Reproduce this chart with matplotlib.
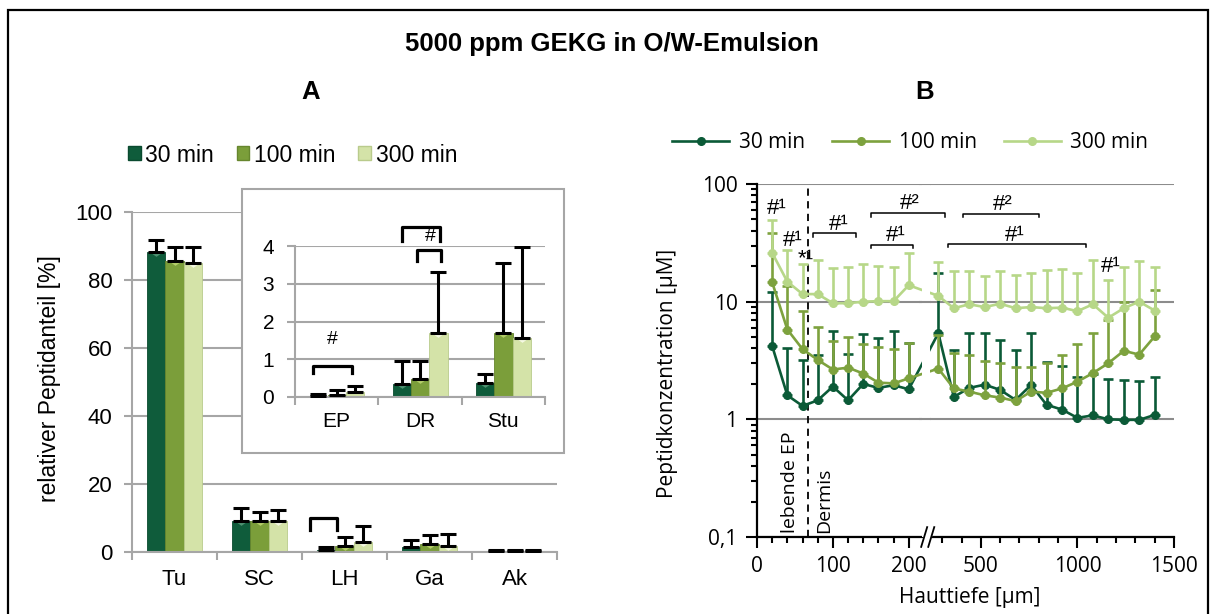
import numpy as np
import matplotlib
matplotlib.use("Agg")
import matplotlib.pyplot as plt
from matplotlib.patches import Rectangle, Patch
from matplotlib.lines import Line2D
from matplotlib.ticker import LogLocator, NullFormatter

plt.rcParams["font.family"] = ["Liberation Sans", "DejaVu Sans"]

# ── Panel A data (relativer Peptidanteil, %) ─────────────
groups_main = ["Tu", "SC", "LH", "Ga", "Ak"]
a30 = [88.2, 9.0, 0.6, 1.4, 0.2]
a30_hi = [91.7, 12.8, 1.6, 3.5, 0.5]
a100 = [85.6, 9.0, 1.9, 2.4, 0.3]
a100_hi = [89.7, 11.9, 4.4, 5.0, 0.6]
a300 = [85.0, 9.0, 3.0, 1.8, 0.3]
a300_hi = [89.7, 12.4, 7.6, 5.3, 0.6]

groups_inset = ["EP", "DR", "Stu"]
i30 = [0.02, 0.35, 0.37]
i30_hi = [0.07, 0.95, 0.61]
i100 = [0.05, 0.48, 1.70]
i100_hi = [0.18, 0.95, 3.56]
i300 = [0.12, 1.70, 1.55]
i300_hi = [0.28, 3.30, 3.98]

# ── Panel B data (Peptidkonzentration, µM) ────────────────
depth = [20, 40, 60, 80, 100, 120, 140, 160, 180, 200,
         280, 360, 440, 520, 600, 680, 760, 840, 920, 1000,
         1080, 1160, 1240, 1320, 1400]
b30 = [4.2, 1.6, 1.3, 1.45, 1.9, 1.45, 2.0, 1.85, 1.95, 1.8,
       5.4, 1.55, 1.85, 1.97, 1.78, 1.46, 1.96, 1.33, 1.21, 1.03,
       1.08, 1.0, 0.99, 0.99, 1.09]
b30_hi = [12.2, 4.0, 3.2, 3.55, 5.6, 3.6, 5.3, 4.9, 5.6, 4.45,
          17.5, 3.9, 5.4, 5.4, 4.7, 3.9, 5.4, 3.1, 2.85, 2.27,
          2.45, 2.22, 2.17, 2.11, 2.27]
b100 = [14.6, 5.8, 3.95, 3.2, 2.65, 2.75, 2.45, 2.05, 2.02, 2.23,
        2.7, 1.83, 1.72, 1.6, 1.53, 1.43, 1.72, 1.68, 1.83, 2.09,
        2.47, 3.0, 3.82, 3.55, 5.07]
b100_hi = [38.0, 13.6, 8.3, 6.1, 4.6, 5.05, 4.4, 4.1, 3.95, 4.45,
           5.2, 3.64, 3.5, 3.16, 3.0, 2.77, 2.8, 3.0, 3.5, 4.36,
           5.4, 7.0, 10.0, 10.0, 12.6]
b300 = [26.0, 14.8, 11.6, 11.6, 9.7, 9.7, 10.0, 10.1, 10.1, 13.8,
        11.2, 8.8, 9.5, 9.0, 9.6, 8.8, 9.0, 8.8, 8.9, 8.3,
        9.5, 7.3, 8.8, 10.0, 8.4]
b300_hi = [49.5, 27.5, 20.8, 22.4, 19.2, 19.6, 20.8, 20.0, 19.6, 26.0,
           21.8, 18.1, 18.2, 16.6, 18.2, 16.7, 17.4, 18.5, 18.9, 17.4,
           22.5, 15.3, 19.9, 22.3, 19.6]

series_labels = ["30 min", "100 min", "300 min"]

# ── Styling ──────────────────────────────────────────────
BAR_COLORS = ["#0F5C3B", "#7B9E3A", "#D4E3A8"]
BAR_EDGES = ["#0A4A2F", "#66862E", "#B9CB8C"]
BEVEL_COLORS = ["#4E9272", "#B5CF6A", "#F5F9E3"]
LINE_COLORS = ["#0B5A37", "#7DA23E", "#B7D788"]
GRID_A = "#A6A6A6"
GRID_B = "#8C8C8C"
BEVEL = [(-1, 0), (1, 0), (0, -0.7), (-1, 0)]

W, H = 1216, 614


def fx(px):
    return px / W


def fy(py):
    return 1 - py / H


fig = plt.figure(figsize=(W / 100, H / 100), dpi=100)

# outer frame (bottom edge runs off the picture)
fig.add_artist(Rectangle((fx(8), -0.1), (1208 - 8) / W, fy(10) + 0.1,
                         transform=fig.transFigure, fill=False,
                         edgecolor="black", lw=1.6, zorder=0))

fig.text(fx(612), fy(44), "5000 ppm GEKG in O/W-Emulsion", ha="center",
         va="center", fontsize=18.5, fontweight="bold")
fig.text(fx(311), fy(92), "A", ha="center", va="center", fontsize=18.5,
         fontweight="bold")
fig.text(fx(925), fy(92), "B", ha="center", va="center", fontsize=18.5,
         fontweight="bold")


def draw_bars(ax, cats, vals_list, hi_list, bw, min_bevel, capsize):
    x = np.arange(len(cats))
    for k, (vals, hi) in enumerate(zip(vals_list, hi_list)):
        vals = np.asarray(vals, float)
        hi = np.asarray(hi, float)
        pos = x + (k - 1) * bw
        ax.bar(pos, vals, bw, color=BAR_COLORS[k], edgecolor=BAR_EDGES[k],
               linewidth=0.6, zorder=2)
        big = vals >= min_bevel
        ax.scatter(pos[big], vals[big], marker=BEVEL, s=80,
                   color=BEVEL_COLORS[k], linewidths=0, zorder=2.5)
        ax.errorbar(pos, vals, yerr=[np.zeros_like(vals), hi - vals],
                    fmt="none", ecolor="black", elinewidth=2.2,
                    capsize=capsize, capthick=2.2, zorder=3)
    ax.set_xlim(-0.5, len(cats) - 0.5)
    ax.set_xticks(x)
    ax.set_xticklabels(cats)
    ax.set_xticks(np.arange(-0.5, len(cats)), minor=True)
    ax.tick_params(axis="x", which="major", length=0)
    ax.tick_params(axis="x", which="minor", length=6, width=1.5, color=GRID_A)
    ax.tick_params(axis="y", which="major", length=6, width=1.5, color=GRID_A)
    for s in ["top", "right"]:
        ax.spines[s].set_visible(False)
    for s in ["left", "bottom"]:
        ax.spines[s].set_color(GRID_A)
        ax.spines[s].set_linewidth(1.5)
    ax.yaxis.grid(True, color=GRID_A, lw=1.5)
    ax.set_axisbelow(True)


def bracket(ax, x0, x1, y_top, y_leg, lw):
    ax.plot([x0, x0, x1, x1], [y_leg, y_top, y_top, y_leg], color="black",
            lw=lw, clip_on=False, solid_joinstyle="round", zorder=6)


# ── Panel A: main axes ───────────────────────────────────
axA = fig.add_axes([fx(132), fy(552), (557 - 132) / W, (552 - 212) / H])
draw_bars(axA, groups_main, [a30, a100, a300], [a30_hi, a100_hi, a300_hi],
          0.216, 1.5, 5.5)
axA.set_ylim(0, 100)
axA.set_yticks(np.arange(0, 101, 20))
axA.tick_params(axis="both", which="both", labelsize=16)
axA.tick_params(axis="x", which="major", pad=12)
axA.tick_params(axis="y", which="major", pad=8)
axA.set_ylabel("relativer Peptidanteil [%]", fontsize=16.5)
axA.yaxis.set_label_coords(-0.193, 0.509)
axA.yaxis.label.set_va("center")
bracket(axA, 2 - 0.405, 2 - 0.085, 9.9, 6.6, 2.3)

axA.legend([Patch(facecolor=c, edgecolor=e) for c, e in zip(BAR_COLORS, BAR_EDGES)],
           series_labels, ncol=3, loc="center left",
           bbox_to_anchor=(fx(128), fy(155)), bbox_transform=fig.transFigure,
           frameon=False, fontsize=16.5, handlelength=0.55, handleheight=0.55,
           handletextpad=0.2, columnspacing=1.0, borderpad=0, borderaxespad=0)

# ── Panel A: inset ───────────────────────────────────────
fig.add_artist(Rectangle((fx(242), fy(453)), (564 - 242) / W, (453 - 189) / H,
                         transform=fig.transFigure, facecolor="white",
                         edgecolor=GRID_A, lw=1.5, zorder=2))
axI = fig.add_axes([fx(295), fy(397), (545 - 295) / W, (397 - 246) / H],
                   zorder=3)
axI.patch.set_visible(False)
draw_bars(axI, groups_inset, [i30, i100, i300], [i30_hi, i100_hi, i300_hi],
          0.22, 0.15, 6)
axI.set_ylim(0, 4)
axI.set_yticks(np.arange(0, 5, 1))
axI.tick_params(axis="both", which="both", labelsize=15)
axI.tick_params(axis="x", which="major", pad=11)
axI.tick_params(axis="y", which="major", pad=9)
bracket(axI, -0.288, 0.18, 0.83, 0.63, 2.3)
axI.text(-0.05, 1.52, "#", ha="center", va="center", fontsize=14)
bracket(axI, 1 - 0.22, 1 + 0.24, 4.51, 4.12, 2.3)
bracket(axI, 1 - 0.032, 1 + 0.252, 3.9, 3.59, 2.3)
axI.text(1.12, 4.25, "#", ha="center", va="center", fontsize=14, zorder=7)

# ── Panel B: broken depth axis ───────────────────────────
BREAK = 225.0
RATIO = 0.2546


def fwd(v):
    v = np.asarray(v, float)
    return np.where(v <= BREAK, v, BREAK + (v - BREAK) * RATIO)


def inv(u):
    u = np.asarray(u, float)
    return np.where(u <= BREAK, u, BREAK + (u - BREAK) / RATIO)


axB = fig.add_axes([fx(757), fy(537), (1174 - 757) / W, (537 - 184) / H])
axB.set_xscale("function", functions=(fwd, inv))
axB.set_yscale("log")
axB.set_xlim(0, 1500)
axB.set_ylim(0.1, 100)

for vals, hi, col in zip([b30, b100, b300], [b30_hi, b100_hi, b300_hi],
                         LINE_COLORS):
    vals = np.asarray(vals, float)
    hi = np.asarray(hi, float)
    axB.errorbar(depth, vals, yerr=[np.zeros_like(vals), hi - vals],
                 fmt="none", ecolor=col, elinewidth=1.9, capsize=3.4,
                 capthick=1.9, zorder=3)
    axB.plot(depth, vals, color=col, lw=1.9, marker="o", ms=5.5, zorder=3)

# gap in the lines at the axis break
axB.axvspan(218, 239, color="white", lw=0, zorder=4)
axB.hlines([1, 10, 100], 214, 243, color=GRID_B, lw=1.5, zorder=4.5)

axB.axvline(67, color="black", lw=1.3, ls=(0, (4, 3)), zorder=2)
axB.text(44, 0.012, "lebende EP", transform=axB.get_xaxis_transform(),
         rotation=90, ha="center", va="bottom", fontsize=14,
         family="Open Sans")
axB.text(89, 0.012, "Dermis", transform=axB.get_xaxis_transform(),
         rotation=90, ha="center", va="bottom", fontsize=14,
         family="Open Sans")

axB.set_yticks([0.1, 1, 10, 100])
axB.set_yticklabels(["0,1", "1", "10", "100"])
axB.yaxis.set_minor_locator(LogLocator(base=10, subs=np.arange(2, 10)))
axB.yaxis.set_minor_formatter(NullFormatter())
axB.set_xticks([0, 100, 200, 500, 1000, 1500])
axB.set_xticklabels(["0", "100", "200", "500", "1000", "1500"])
axB.set_xticks(list(range(20, 200, 20)) + [300, 400, 600, 700, 800, 900,
                                           1100, 1200, 1300, 1400], minor=True)
axB.tick_params(axis="both", which="major", length=8, width=1.5, pad=6,
                labelsize=15, labelfontfamily="Open Sans")
axB.tick_params(axis="both", which="minor", length=4, width=1.5)
axB.yaxis.grid(True, which="major", color=GRID_B, lw=1.5)
axB.set_axisbelow(True)
for s in ["top", "right"]:
    axB.spines[s].set_visible(False)
for s in ["left", "bottom"]:
    axB.spines[s].set_linewidth(1.6)

axB.set_ylabel("Peptidkonzentration [µM]", fontsize=15, family="Open Sans")
axB.yaxis.set_label_coords(-0.214, 0.462)
axB.yaxis.label.set_va("center")
axB.set_xlabel("Hauttiefe [µm]", fontsize=15, family="Open Sans")
axB.xaxis.set_label_coords(0.509, -0.17)
axB.xaxis.label.set_va("center")

# break marks on the x axis
fb = float(fwd(BREAK) / fwd(1500))
gap = [(fb - 0.0085 - 0.0072, -0.028), (fb - 0.0085 + 0.0072, 0.028),
       (fb + 0.0085 + 0.0072, 0.028), (fb + 0.0085 - 0.0072, -0.028)]
axB.fill(*zip(*gap), color="white", transform=axB.transAxes, clip_on=False,
         zorder=6)
for c in (fb - 0.0085, fb + 0.0085):
    axB.plot([c - 0.0072, c + 0.0072], [-0.028, 0.028], color="black", lw=1.3,
             transform=axB.transAxes, clip_on=False, zorder=7)

# significance marks
sig_text = [(26, 56, "#¹"), (47, 29.7, "#¹"), (64, 20.5, "*¹"),
            (108, 40.6, "#¹"), (201, 61, "#²"), (183, 33, "#¹"),
            (611, 60, "#²"), (676, 33, "#¹"), (1173, 18, "#¹")]
for xs, ys, t in sig_text:
    axB.text(xs, ys, t, ha="center", va="baseline", fontsize=16, zorder=7)
sig_brackets = [(73.6, 131, 38.1, 35.6), (150, 317, 56.4, 52.1),
                (150, 206, 30.3, 28.4), (408, 801, 55.6, 52.0),
                (331, 1047, 30.9, 29.0)]
for x0, x1, yt, yl in sig_brackets:
    bracket(axB, x0, x1, yt, yl, 1.1)

axB.legend([Line2D([], [], color=c, lw=1.9, marker="o", ms=5.5)
            for c in LINE_COLORS], series_labels, ncol=3, loc="center left",
           bbox_to_anchor=(fx(672), fy(143)), bbox_transform=fig.transFigure,
           frameon=False, prop={"family": "Open Sans", "size": 15},
           handlelength=2.75, handletextpad=0.45, columnspacing=1.3,
           borderpad=0, borderaxespad=0)

fig.savefig("out.png", dpi=100)
